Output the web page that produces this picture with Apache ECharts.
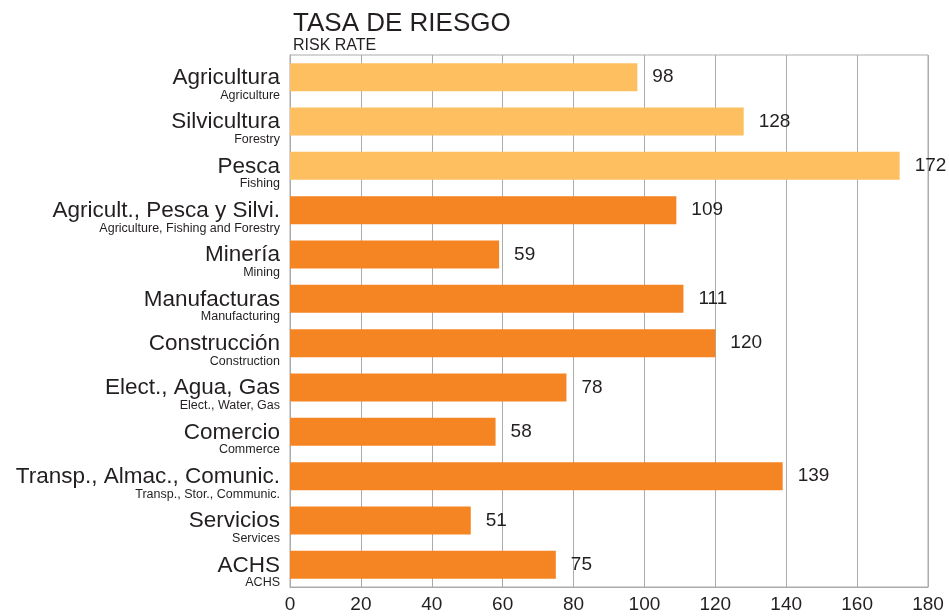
<!DOCTYPE html>
<html>
<head>
<meta charset="utf-8">
<script src="https://cdn.jsdelivr.net/npm/echarts@6/dist/echarts.min.js"></script>
<style>
    html, body { margin: 0; padding: 0; background: #fff; }
    #chart { width: 949px; height: 616px; }
</style>
</head>
<body>
<div id="chart"></div>
<script>
let sectorsEs = ['Agricultura', 'Silvicultura', 'Pesca', 'Agricult., Pesca y Silvi.', 'Minería', 'Manufacturas',
    'Construcción', 'Elect., Agua, Gas', 'Comercio', 'Transp., Almac., Comunic.', 'Servicios', 'ACHS'];
let sectorsEn = ['Agriculture', 'Forestry', 'Fishing', 'Agriculture, Fishing and Forestry', 'Mining', 'Manufacturing',
    'Construction', 'Elect., Water, Gas', 'Commerce', 'Transp., Stor., Communic.', 'Services', 'ACHS'];
let riskRate = [98, 128, 172, 109, 59, 111, 120, 78, 58, 139, 51, 75];
// first three are the sub-sectors (lighter colour)
let subSectorCount = 3;
let xTicks = [0, 20, 40, 60, 80, 100, 120, 140, 160, 180];

let lightOrange = '#FDBF60';
let orange = '#F58523';
let textColor = '#231F20';
let font = 'Liberation Sans';

function addRiskChart() {
    var dom = document.getElementById('chart');
    var myChart = echarts.init(dom, null, { renderer: 'canvas' });

    var barData = riskRate.map(function (v, i) {
        return {
            value: v,
            itemStyle: { color: i < subSectorCount ? lightOrange : orange }
        };
    });

    var option = {
        backgroundColor: '#fff',
        animation: false,
        title: [{
            text: 'TASA DE RIESGO',
            left: 288,
            top: 6,
            textStyle: { fontFamily: font, fontSize: 26, fontWeight: 'normal', color: textColor }
        }, {
            text: 'RISK RATE',
            left: 288,
            top: 33,
            textStyle: { fontFamily: font, fontSize: 16, fontWeight: 'normal', color: textColor }
        }],
        grid: {
            left: 290,
            right: 21,
            top: 55,
            bottom: 29,
            show: true,
            borderColor: '#ababab',
            borderWidth: 1
        },
        xAxis: {
            type: 'value',
            min: xTicks[0],
            max: xTicks[xTicks.length - 1],
            interval: 20,
            axisLine: { show: true, lineStyle: { color: '#ababab' } },
            axisTick: { show: false },
            splitLine: { show: true, lineStyle: { color: '#ababab', width: 1 } },
            axisLabel: {
                fontFamily: font,
                fontSize: 19,
                color: textColor,
                margin: 8,
                formatter: function (v) { return xTicks.indexOf(v) >= 0 ? String(v) : ''; }
            }
        },
        yAxis: {
            type: 'category',
            inverse: true,
            data: sectorsEs,
            axisLine: { show: true, lineStyle: { color: '#ababab' } },
            axisTick: { show: false },
            axisLabel: {
                margin: 10,
                align: 'right',
                padding: [14, 0, 0, 0],
                formatter: function (v, i) {
                    return '{es|' + v + '}\n{en|' + sectorsEn[i] + '}';
                },
                rich: {
                    es: { fontFamily: font, fontSize: 22.5, lineHeight: 22, color: textColor, align: 'right' },
                    en: { fontFamily: font, fontSize: 12.5, lineHeight: 13, color: textColor, align: 'right' }
                }
            }
        },
        series: [{
            type: 'bar',
            data: barData,
            barCategoryGap: '37%',
            label: {
                show: true,
                position: 'right',
                distance: 15,
                fontFamily: font,
                fontSize: 19,
                color: textColor
            }
        }]
    };

    myChart.setOption(option);
    window.addEventListener('resize', myChart.resize);
}

addRiskChart();
</script>
</body>
</html>
